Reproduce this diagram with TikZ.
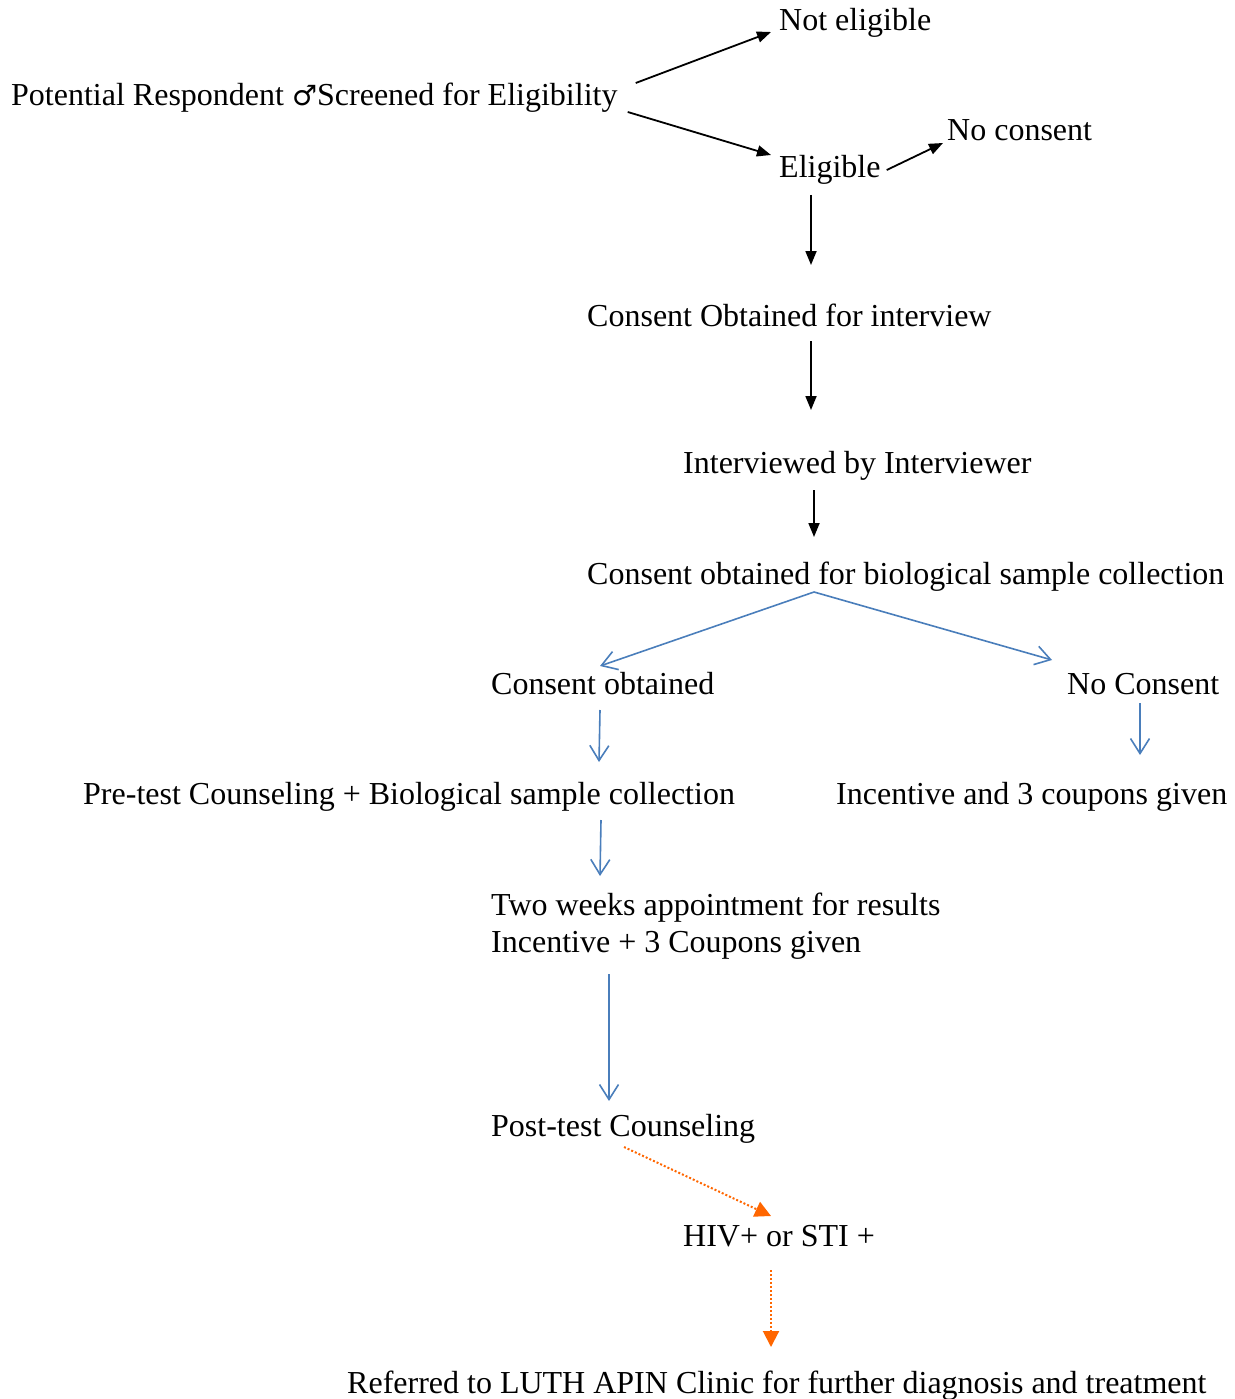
\documentclass[tikz,border=0pt]{standalone}
\usepackage{fontspec}
\setmainfont{Liberation Serif}
\newfontfamily\symfont{DejaVu Sans}
\usetikzlibrary{arrows.meta,calc}
\definecolor{flowblue}{HTML}{4A7EBB}
\definecolor{floworange}{HTML}{FF6600}
\begin{document}
\begin{tikzpicture}[x=1pt,y=-1pt,
  lbl/.style={anchor=base west,inner sep=0pt,font=\fontsize{32}{37}\selectfont},
  blk/.style={draw=black,line width=1.8pt,-{Triangle[length=14pt,width=11pt]}},
  blu/.style={draw=flowblue,line width=1.6pt,-{Straight Barb[length=15pt,width=19pt,line width=1.6pt]}},
  org/.style={draw=floworange,line width=2pt,dash pattern=on 2pt off 2pt,-{Triangle[length=16pt,width=16pt]}}]
\useasboundingbox (0,0) rectangle (1234,1399);
\node[lbl] (pot) at (11,106) {Potential Respondent {\symfont\fontsize{28}{37}\selectfont ♂}Screened for Eligibility};
\node[lbl] (notel) at (779,31) {Not eligible};
\node[lbl] (elig) at (779,178) {Eligible};
\node[lbl] (nocons) at (947,141) {No consent};
\node[lbl] (conint) at (587,326) {Consent Obtained for interview};
\node[lbl] (interv) at (683,473) {Interviewed by Interviewer};
\node[lbl] (conbio) at (587,584) {Consent obtained for biological sample collection};
\node[lbl] (cobt) at (491,694) {Consent obtained};
\node[lbl] (nocon2) at (1067,694) {No Consent};
\node[lbl] (pretest) at (83,804) {Pre-test Counseling + Biological sample collection};
\node[lbl] (incent) at (836,804) {Incentive and 3 coupons given};
\node[lbl,anchor=west,align=left] (twow) at (491,926) {Two weeks appointment for results\\Incentive + 3 Coupons given};
\node[lbl] (posttest) at (491,1136) {Post-test Counseling};
\node[lbl] (hiv) at (683,1246) {HIV+ or STI +};
\node[lbl] (referred) at (347,1393) {Referred to LUTH APIN Clinic for further diagnosis and treatment};

\draw[blk] ($(pot.base east)+(18,-23)$) -- ($(notel.base west)+(-8,1)$);
\draw[blk] ($(pot.base east)+(10,6)$) -- ($(elig.base west)+(-8,-23)$);
\draw[blk] ($(elig.base east)+(6,-8)$) -- ($(nocons.base west)+(-4,2)$);
\draw[blk] ($(elig.base west)+(32,17)$) -- ($(conint.base west)+(224,-61)$);
\draw[blk] ($(conint.base west)+(224,15)$) -- ($(interv.base west)+(128,-63)$);
\draw[blk] ($(interv.base west)+(131,17)$) -- ($(conbio.base west)+(227,-47)$);

\draw[blu] ($(conbio.base west)+(227,8)$) -- ($(cobt.base west)+(109,-28)$);
\draw[blu] ($(conbio.base west)+(227,8)$) -- ($(nocon2.base west)+(-15,-34)$);
\draw[blu] ($(cobt.base west)+(109,16)$) -- ($(pretest.base west)+(516,-42)$);
\draw[blu] ($(nocon2.base west)+(73,9)$) -- ($(incent.base west)+(304,-49)$);
\draw[blu] ($(pretest.base west)+(518,16)$) -- ($(twow.west)+(109,-50)$);
\draw[blu] ($(twow.west)+(118,48)$) -- ($(posttest.base west)+(118,-35)$);

\draw[org] ($(posttest.base west)+(133,11)$) -- ($(hiv.base west)+(88,-30)$);
\draw[org] ($(hiv.base west)+(88,24)$) -- ($(referred.base west)+(424,-46)$);
\end{tikzpicture}
\end{document}
